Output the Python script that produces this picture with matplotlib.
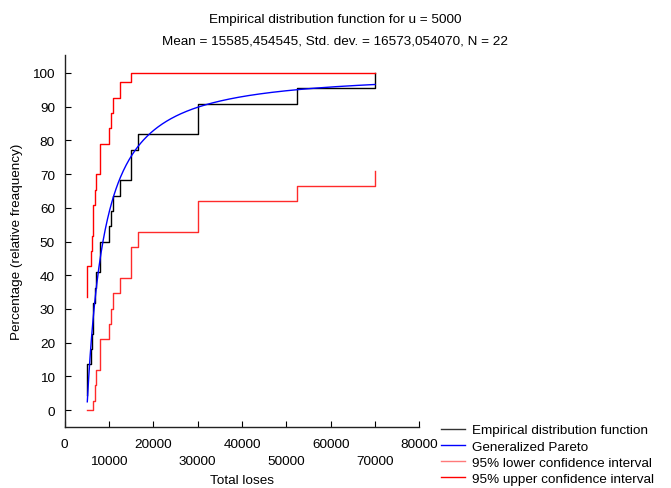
import numpy as np
import matplotlib
matplotlib.use("Agg")
import matplotlib.pyplot as plt

plt.rcParams["font.family"] = ["Liberation Sans", "DejaVu Sans"]
plt.rcParams["font.size"] = 9.7

# Sorted total losses above the threshold u = 5000 (N = 22)
losses = [5100, 5100, 5100, 5930, 6160, 6300, 6400, 6750, 7000, 8000, 8000,
          10000, 10400, 11000, 12500, 15000, 15000, 16500, 30000, 30000,
          52500, 70000]
threshold = 5000
# Half-width of the 95% confidence band, in percentage points
ci_halfwidth = 29.0
# Fitted Generalized Pareto parameters (shape, scale)
gpd_shape = 0.78
gpd_scale = 3950.0

x_ticks = [0, 10000, 20000, 30000, 40000, 50000, 60000, 70000, 80000]
y_ticks = [0, 10, 20, 30, 40, 50, 60, 70, 80, 90, 100]

n = len(losses)
x = np.array(losses, dtype=float)
ecdf = np.arange(1, n + 1) / n * 100.0
lower = np.clip(ecdf - ci_halfwidth, 0, 100)
upper = np.clip(ecdf + ci_halfwidth, 0, 100)

xg = np.linspace(x[0], x[-1], 400)
gpd = (1.0 - (1.0 + gpd_shape * (xg - threshold) / gpd_scale) ** (-1.0 / gpd_shape)) * 100.0

fig = plt.figure(figsize=(6.71, 4.89), dpi=100)
ax = fig.add_axes([0.0964, 0.1247, 0.5286, 0.7608])

l1, = ax.plot(x, ecdf, drawstyle="steps-post", color="black", lw=1.0)
l2, = ax.plot(xg, gpd, color="#0000ff", lw=1.0)
l3, = ax.plot(x, lower, drawstyle="steps-post", color="#ff2a2a", lw=1.0)
l4, = ax.plot(x, upper, drawstyle="steps-post", color="#ff0000", lw=1.0)

ax.set_xlim(0, 80000)
ax.set_ylim(-5, 105.3)
ax.set_yticks(y_ticks)
ax.set_yticklabels([str(v) for v in y_ticks])
ax.set_xticks(x_ticks)
ax.set_xticklabels([str(v) if i % 2 == 0 else "\n" + str(v)
                    for i, v in enumerate(x_ticks)], linespacing=1.5)
ax.tick_params(direction="in", length=4, width=0.8, colors="black", pad=7)
ax.tick_params(axis="x", pad=8)
for s in ("top", "right"):
    ax.spines[s].set_visible(False)
for s in ("left", "bottom"):
    ax.spines[s].set_linewidth(1.0)
    ax.spines[s].set_color("#222222")

ax.set_xlabel("Total loses", labelpad=5)
ax.set_ylabel("Percentage (relative freaquency)", labelpad=7)

fig.text(0.5, 1 - 20 / 489, "Empirical distribution function for u = 5000",
         ha="center", va="center")
fig.text(0.5, 1 - 41 / 489, "Mean = 15585,454545, Std. dev. = 16573,054070, N = 22",
         ha="center", va="center")

leg_lower = matplotlib.lines.Line2D([], [], color="#ff7a7a", lw=1.0)
leg_ecdf = matplotlib.lines.Line2D([], [], color="#333333", lw=1.0)
fig.legend([leg_ecdf, l2, leg_lower, l4],
           ["Empirical distribution function", "Generalized Pareto",
            "95% lower confidence interval", "95% upper confidence interval"],
           loc="upper left", bbox_to_anchor=(0.657, 1 - 425 / 489),
           frameon=False, borderpad=0, borderaxespad=0,
           handlelength=1.8, handletextpad=0.5, labelspacing=0.28)

fig.savefig("out.png", dpi=100)
